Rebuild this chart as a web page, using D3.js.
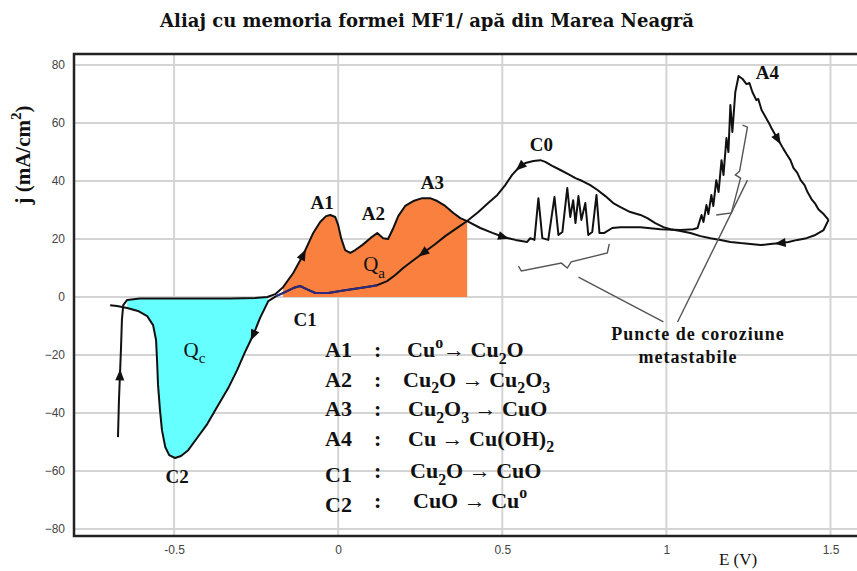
<!DOCTYPE html>
<html>
<head>
<meta charset="utf-8">
<script src="https://cdn.jsdelivr.net/npm/d3@7"></script>
<style>
  body { margin: 0; background: #fff; }
  svg { display: block; }
</style>
</head>
<body>
<svg id="chart" width="857" height="571"></svg>
<script>
// ---- Chart text ----
const titleText = "Aliaj cu memoria formei MF1/ apă din Marea Neagră";
const yAxisTitle = "j (mA/cm^2)";
const xAxisTitle = "E (V)";
const xTicks = [-0.5, 0, 0.5, 1, 1.5];
const yTicks = [-80, -60, -40, -20, 0, 20, 40, 60, 80];

// ---- Anodic (forward) scan: potential E (V) and current density j (mA/cm2) ----
const forwardE = [-0.671, -0.668, -0.662, -0.659, -0.655, -0.643, -0.604, -0.512, -0.421, -0.329,
  -0.253, -0.216, -0.192, -0.168, -0.137, -0.107, -0.076, -0.055, -0.037, -0.024,
  -0.009, 0.000, 0.009, 0.021, 0.037, 0.052, 0.073, 0.098, 0.119, 0.137,
  0.152, 0.168, 0.183, 0.204, 0.229, 0.256, 0.280, 0.302, 0.326, 0.351,
  0.372, 0.393, 0.433, 0.470, 0.503, 0.540, 0.576, 0.585, 0.598, 0.610,
  0.622, 0.640, 0.659, 0.671, 0.683, 0.698, 0.707, 0.716, 0.723, 0.732,
  0.741, 0.753, 0.762, 0.774, 0.787, 0.796, 0.811, 0.835, 0.860, 0.921,
  0.982, 1.043, 1.082, 1.095, 1.107, 1.113, 1.122, 1.128, 1.137, 1.143,
  1.152, 1.159, 1.168, 1.174, 1.183, 1.189, 1.195, 1.201, 1.210, 1.220,
  1.232, 1.244, 1.253, 1.262, 1.274, 1.280, 1.290, 1.302, 1.311, 1.320,
  1.332, 1.345, 1.357, 1.366, 1.378, 1.387, 1.399, 1.409, 1.421, 1.430,
  1.442, 1.454, 1.463, 1.479, 1.494];
const forwardJ = [-48.3, -35.5, -18.3, -7.9, -2.8, -1.0, -0.5, -0.5, -0.5, -0.5,
  -0.3, 0.0, 1.0, 3.4, 8.3, 14.5, 22.1, 25.9, 27.9, 28.3,
  27.6, 24.8, 20.3, 16.2, 15.2, 16.2, 17.9, 20.3, 22.1, 20.3,
  20.0, 23.8, 27.9, 31.4, 33.1, 34.1, 34.1, 33.1, 31.4, 29.0,
  27.2, 26.2, 23.8, 22.1, 20.7, 19.7, 19.0, 20.3, 19.7, 34.1,
  20.3, 19.7, 34.5, 21.4, 22.4, 37.6, 27.6, 33.4, 25.5, 34.8,
  26.6, 32.4, 21.4, 22.4, 35.2, 22.1, 22.1, 23.8, 24.1, 24.1,
  23.4, 23.1, 23.4, 23.8, 28.3, 25.9, 31.7, 28.6, 35.2, 31.4,
  40.3, 36.2, 47.2, 42.1, 54.8, 50.0, 66.2, 56.9, 70.7, 76.2,
  75.2, 73.4, 73.8, 70.7, 67.9, 68.3, 64.5, 62.1, 60.3, 58.3,
  55.9, 53.4, 51.0, 49.3, 47.2, 44.5, 42.8, 40.3, 38.6, 36.2,
  33.8, 32.1, 30.3, 28.6, 26.6];

// ---- Cathodic (reverse) scan ----
const reverseE = [1.494, 1.479, 1.454, 1.427, 1.399, 1.372, 1.348, 1.317, 1.287, 1.256,
  1.226, 1.195, 1.165, 1.134, 1.104, 1.073, 1.043, 1.012, 0.991, 0.966,
  0.942, 0.921, 0.890, 0.860, 0.838, 0.814, 0.790, 0.768, 0.744, 0.723,
  0.701, 0.677, 0.652, 0.631, 0.616, 0.595, 0.570, 0.549, 0.530, 0.509,
  0.485, 0.457, 0.427, 0.393, 0.357, 0.326, 0.296, 0.259, 0.226, 0.198,
  0.174, 0.149, 0.119, 0.082, 0.046, 0.006, -0.030, -0.070, -0.098, -0.116,
  -0.137, -0.162, -0.189, -0.213, -0.238, -0.259, -0.284, -0.308, -0.335, -0.369,
  -0.399, -0.430, -0.457, -0.479, -0.497, -0.515, -0.527, -0.537, -0.543, -0.549,
  -0.552, -0.555, -0.564, -0.582, -0.610, -0.643, -0.674, -0.695];
const reverseJ = [26.6, 23.1, 21.4, 20.3, 19.7, 19.0, 18.6, 18.3, 17.9, 18.3,
  18.6, 19.0, 19.7, 20.3, 21.0, 22.1, 22.8, 23.4, 24.1, 25.5,
  27.2, 28.3, 29.3, 31.0, 32.4, 34.8, 36.9, 38.6, 40.0, 41.0,
  42.4, 43.8, 45.2, 46.6, 47.2, 46.9, 46.2, 44.5, 42.1, 38.6,
  35.2, 32.4, 29.3, 26.2, 23.4, 21.0, 18.3, 15.2, 12.4, 10.0,
  7.6, 5.5, 4.1, 3.4, 2.8, 2.1, 1.4, 1.4, 2.8, 3.8,
  3.1, 1.7, 0.3, -1.4, -7.2, -13.1, -19.0, -25.2, -31.4, -37.9,
  -43.8, -48.6, -52.8, -54.8, -55.5, -54.5, -51.7, -45.9, -39.0, -30.3,
  -21.7, -14.8, -9.7, -6.6, -4.8, -3.8, -3.1, -2.8];

// ---- Peak labels (anchor potential / current) ----
const peakNames = ["A1", "A2", "A3", "A4", "C0", "C1", "C2"];
const peakLabelE = [-0.049, 0.107, 0.287, 1.308, 0.619, -0.101, -0.491];
const peakLabelJ = [30.5, 26.6, 37.2, 75.2, 50.3, -10.0, -64.1];

// ---- Charge labels ----
const chargeNames = ["Q_a", "Q_c"];
const chargeE = [0.076, -0.471];
const chargeJ = [8.9, -20.7];

// ---- Scan direction arrows: series and point on it ----
const arrowSeries = ["f", "f", "f", "f", "r", "r", "r", "r"];
const arrowE = [-0.665, -0.107, 0.503, 1.339, 1.348, 0.555, 0.259, -0.259];
const arrowJ = [-27.0, 14.5, 20.7, 54.5, 18.6, 45.0, 15.2, -13.1];

// ---- Reaction legend ----
const reactionLabels = ["A1", "A2", "A3", "A4", "C1", "C2"];
const reactionFormulas = ["Cu^o→ Cu_2O", "Cu_2O → Cu_2O_3", "Cu_2O_3 → CuO",
  "Cu → Cu(OH)_2", "Cu_2O → CuO", "CuO → Cu^o"];

// ---- Metastable pitting annotation (E, j) ----
const bracketPitsE = [0.549, 0.558, 0.680, 0.698, 0.710, 0.820, 0.826];
const bracketPitsJ = [10.7, 9.0, 11.7, 10.0, 12.1, 15.2, 18.3];
const bracketA4E = [1.232, 1.247, 1.223, 1.210, 1.226, 1.198, 1.152];
const bracketA4J = [59.3, 58.6, 43.4, 42.1, 41.0, 29.0, 28.3];
const leaderE = [[0.732, 0.991], [1.247, 1.034]];
const leaderJ = [[6.9, -8.6], [40.3, -8.6]];
const pitNote = ["Puncte de coroziune", "metastabile"];

// ---------------------------------------------------------------
const svg = d3.select("#chart");
const W = 857, H = 571;
const plot = { left: 74, right: 883, top: 54, bottom: 536 };

const x = d3.scaleLinear().domain([-0.805, 1.66]).range([plot.left, plot.right]);
const y = d3.scaleLinear().domain([-82.4, 83.8]).range([plot.bottom, plot.top]);

const serif = "'Liberation Serif', 'Times New Roman', serif";
const tickFont = "'Liberation Sans Narrow', 'Liberation Sans', Arial, sans-serif";

function richText(sel, str, fs) {
  const parts = [];
  let buf = "";
  for (let i = 0; i < str.length; i++) {
    const c = str[i];
    if (c === "_" || c === "^") {
      if (buf) parts.push({ t: buf, k: 0 });
      buf = "";
      parts.push({ t: str[i + 1], k: c === "_" ? 1 : -1 });
      i++;
    } else buf += c;
  }
  if (buf) parts.push({ t: buf, k: 0 });
  let cur = 0;
  parts.forEach(p => {
    const target = p.k === 1 ? fs * 0.3 : p.k === -1 ? -fs * 0.42 : 0;
    sel.append("tspan").attr("dy", target - cur)
      .attr("font-size", p.k ? fs * 0.72 : fs).text(p.t);
    cur = target;
  });
}

// Title
svg.append("text")
  .attr("x", 427).attr("y", 27)
  .attr("text-anchor", "middle")
  .attr("font-family", "'DejaVu Serif', serif")
  .attr("font-weight", "bold").attr("font-size", 18)
  .attr("fill", "#111")
  .text(titleText);

// Gridlines
const grid = svg.append("g");
grid.selectAll("line.h").data(yTicks).join("line")
  .attr("x1", plot.left).attr("x2", W)
  .attr("y1", d => y(d)).attr("y2", d => y(d))
  .attr("stroke", "#d4d4d4").attr("stroke-width", 2);
grid.selectAll("line.v").data(xTicks).join("line")
  .attr("y1", plot.top).attr("y2", plot.bottom)
  .attr("x1", d => x(d)).attr("x2", d => x(d))
  .attr("stroke", "#d4d4d4").attr("stroke-width", 2);

// Axes (labels only)
const yAxis = svg.append("g")
  .attr("transform", `translate(${plot.left},0)`)
  .call(d3.axisLeft(y).tickValues(yTicks).tickSize(0).tickPadding(9).tickFormat(d3.format("d")));
const xAxis = svg.append("g")
  .attr("transform", `translate(0,${plot.bottom})`)
  .call(d3.axisBottom(x).tickValues(xTicks).tickSize(0).tickPadding(9).tickFormat(d => String(d)));
[yAxis, xAxis].forEach(a => {
  a.select(".domain").remove();
  a.selectAll("text").attr("font-family", tickFont).attr("font-size", 12).attr("fill", "#444");
});

// Filled charge areas
const line = d3.line().x(d => x(d[0])).y(d => y(d[1]));
const fwd = forwardE.map((e, i) => [e, forwardJ[i]]);
const rev = reverseE.map((e, i) => [e, reverseJ[i]]);

const cathTop = fwd.filter(d => d[0] >= -0.645 && d[0] <= -0.21);
const cathBottom = rev.filter(d => d[0] >= -0.645 && d[0] <= -0.21);
svg.append("path")
  .attr("d", line(cathTop.concat(cathBottom)) + "Z")
  .attr("fill", "#66ffff");

const anodic = fwd.filter(d => d[0] >= -0.17 && d[0] <= 0.395);
svg.append("path")
  .attr("d", d3.area().x(d => x(d[0])).y0(y(0)).y1(d => y(d[1]))(anodic))
  .attr("fill", "#f9803f");

// Voltammogram
svg.append("path").attr("d", line(fwd))
  .attr("fill", "none").attr("stroke", "#111").attr("stroke-width", 2)
  .attr("stroke-linejoin", "round");
svg.append("path").attr("d", line(rev))
  .attr("fill", "none").attr("stroke", "#111").attr("stroke-width", 2)
  .attr("stroke-linejoin", "round");
svg.append("path").attr("d", line(rev.filter(d => d[0] >= -0.2 && d[0] <= 0.12)))
  .attr("fill", "none").attr("stroke", "#2e2a7e").attr("stroke-width", 2)
  .attr("stroke-linejoin", "round");

// Direction arrows
arrowE.forEach((e, k) => {
  const pts = arrowSeries[k] === "f" ? fwd : rev;
  const px = x(e), py = y(arrowJ[k]);
  let best = 1, bd = Infinity;
  for (let i = 1; i < pts.length - 1; i++) {
    const d = Math.hypot(x(pts[i][0]) - px, y(pts[i][1]) - py);
    if (d < bd) { bd = d; best = i; }
  }
  const a = pts[best - 1], b = pts[best + 1];
  const ang = Math.atan2(y(b[1]) - y(a[1]), x(b[0]) - x(a[0])) * 180 / Math.PI;
  svg.append("path")
    .attr("d", "M6,0L-5,-4.5L-5,4.5Z")
    .attr("transform", `translate(${px},${py}) rotate(${ang})`)
    .attr("fill", "#111");
});

// Plot frame (right side runs past the view)
svg.append("path")
  .attr("d", `M${W + 5},${plot.top}H${plot.left}V${plot.bottom}H${W + 5}`)
  .attr("fill", "none").attr("stroke", "#222").attr("stroke-width", 2.5);

// Axis titles
const yt = svg.append("text")
  .attr("transform", "translate(30,155) rotate(-90)")
  .attr("text-anchor", "middle")
  .attr("font-family", serif).attr("font-weight", "bold").attr("font-size", 21)
  .attr("fill", "#111");
richText(yt, yAxisTitle, 21);

svg.append("text")
  .attr("x", 738).attr("y", 565)
  .attr("text-anchor", "middle")
  .attr("font-family", serif).attr("font-size", 17).attr("fill", "#111")
  .text(xAxisTitle);

// Peak labels
svg.selectAll("text.peak").data(peakNames).join("text")
  .attr("x", (d, i) => x(peakLabelE[i])).attr("y", (d, i) => y(peakLabelJ[i]))
  .attr("text-anchor", "middle")
  .attr("font-family", serif).attr("font-weight", "bold").attr("font-size", 19)
  .attr("fill", "#111")
  .text(d => d);

// Charge labels
chargeNames.forEach((n, i) => {
  const t = svg.append("text")
    .attr("x", x(chargeE[i])).attr("y", y(chargeJ[i]))
    .attr("font-family", serif).attr("font-size", 21).attr("fill", "#111");
  richText(t, n, 21);
});

// Annotation brackets and leaders
const ann = svg.append("g").attr("fill", "none").attr("stroke", "#555").attr("stroke-width", 1.4);
ann.append("path").attr("d", line(bracketPitsE.map((e, i) => [e, bracketPitsJ[i]])));
ann.append("path").attr("d", line(bracketA4E.map((e, i) => [e, bracketA4J[i]])));
leaderE.forEach((es, i) => {
  ann.append("path").attr("d", line(es.map((e, k) => [e, leaderJ[i][k]])));
});
pitNote.forEach((s, i) => {
  svg.append("text")
    .attr("x", i === 0 ? 698 : 688).attr("y", 340 + i * 23)
    .attr("text-anchor", "middle")
    .attr("font-family", serif).attr("font-weight", "bold").attr("font-size", 18)
    .attr("letter-spacing", 1)
    .attr("fill", "#111").text(s);
});

// Reaction legend
const formulaX = [407, 403, 408, 408, 410, 413];
reactionLabels.forEach((lab, i) => {
  const base = 357 + i * 29.5 + (i >= 4 ? 3 : 0);
  svg.append("text")
    .attr("x", 325).attr("y", base + (i >= 4 ? 4 : 0))
    .attr("font-family", serif).attr("font-weight", "bold").attr("font-size", 22)
    .attr("fill", "#111").text(lab);
  svg.append("text")
    .attr("x", 374).attr("y", base)
    .attr("font-family", serif).attr("font-weight", "bold").attr("font-size", 22)
    .attr("fill", "#111").text(":");
  const ft = svg.append("text")
    .attr("x", formulaX[i]).attr("y", base)
    .attr("font-family", serif).attr("font-weight", "bold").attr("font-size", 22)
    .attr("fill", "#111");
  richText(ft, reactionFormulas[i], 22);
});
</script>
</body>
</html>
